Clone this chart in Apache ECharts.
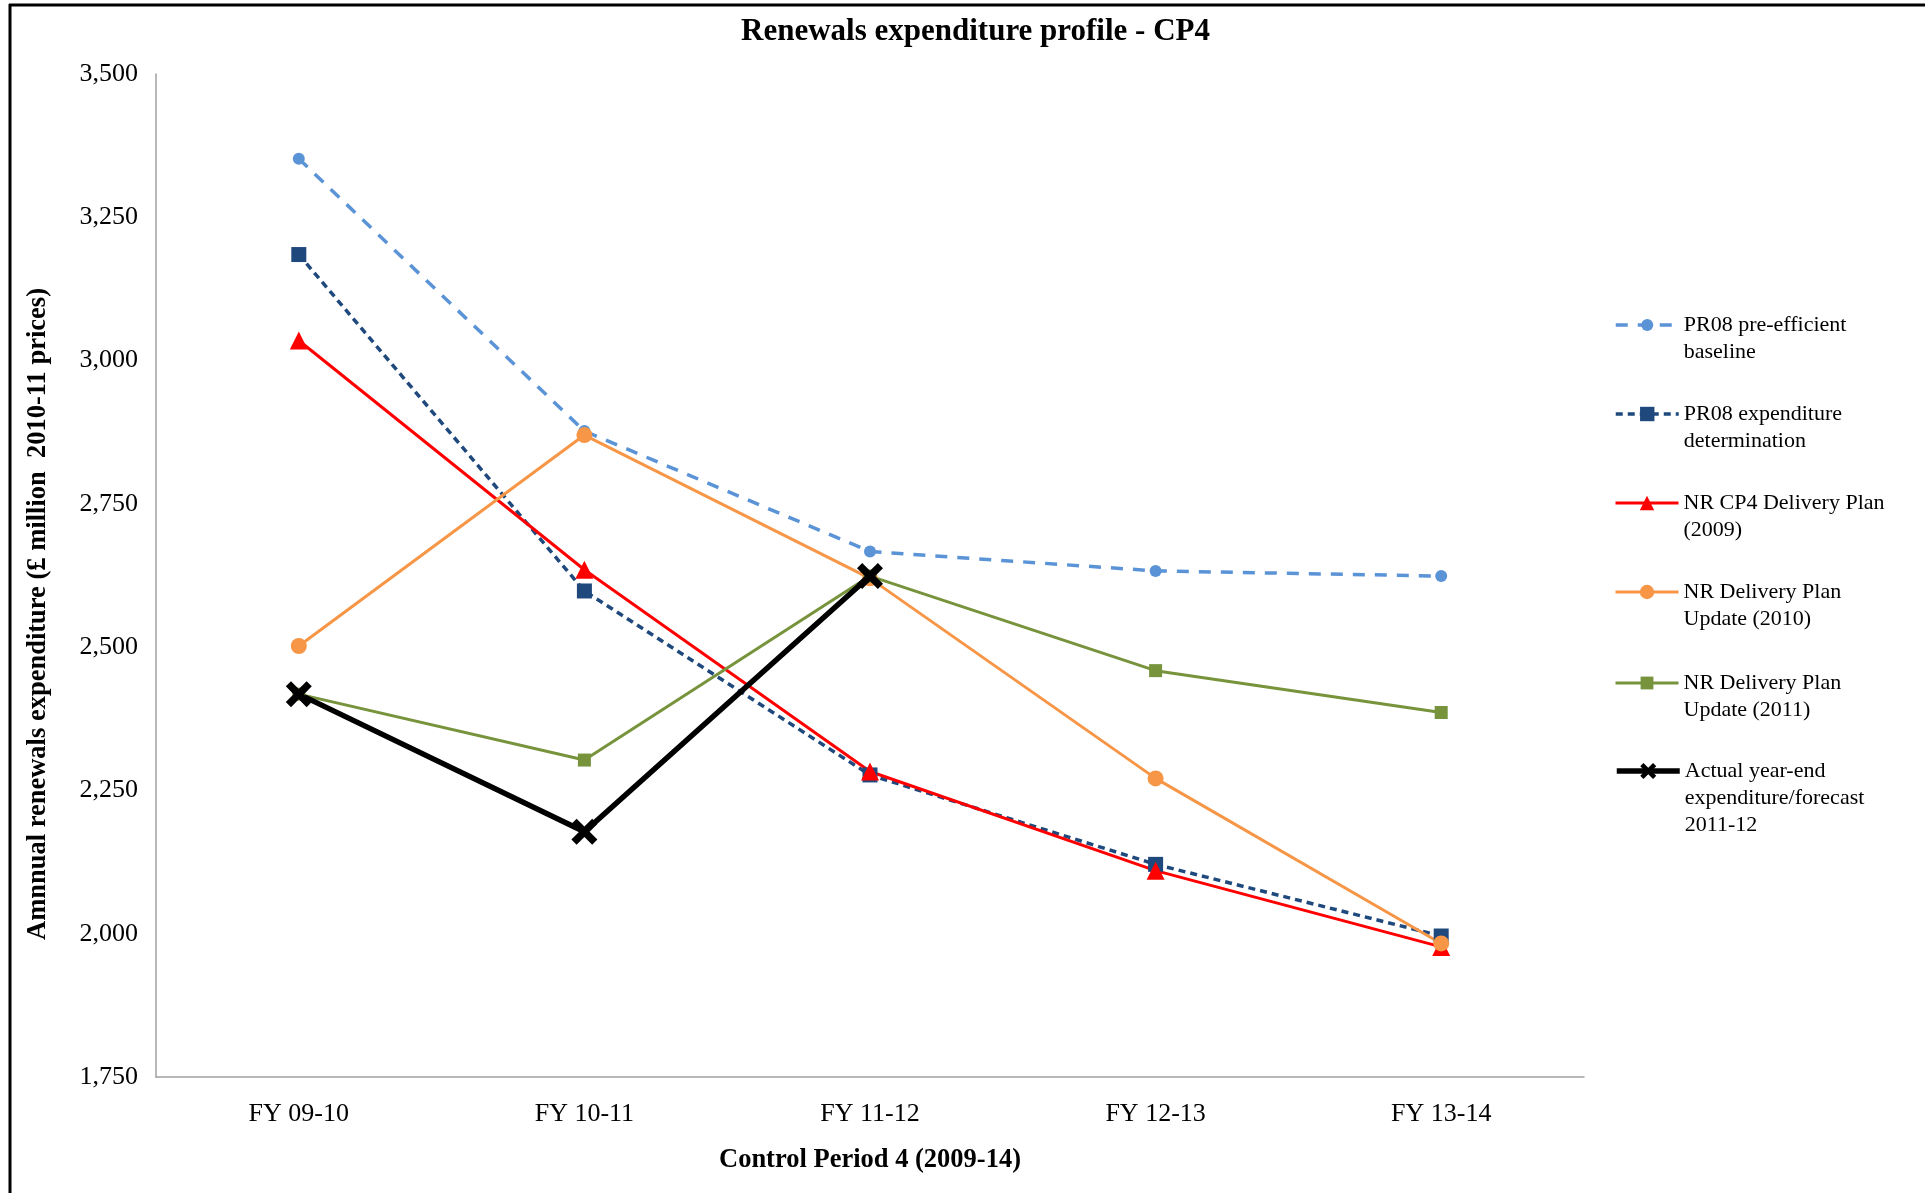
<!DOCTYPE html>
<html>
<head>
<meta charset="utf-8">
<script src="https://cdn.jsdelivr.net/npm/echarts@6/dist/echarts.min.js"></script>
<style>
html,body{margin:0;padding:0;background:#fff;}
#chart{width:1925px;height:1193px;}
</style>
</head>
<body>
<div id="chart"></div>
<script>
// ---- data ----
var categories = ['FY 09-10', 'FY 10-11', 'FY 11-12', 'FY 12-13', 'FY 13-14'];
var preEfficient   = [3352, 2877, 2667, 2633, 2624];
var determination  = [3185, 2598, 2277, 2121, 1996];
var cp4Plan2009    = [3035, 2635, 2283, 2110, 1977];
var planUpdate2010 = [2502, 2870, 2620, 2271, 1983];
var planUpdate2011 = [2418, 2303, 2624, 2459, 2386];
var actual         = [2418, 2178, 2624, null, null];
var yMin = 1750, yMax = 3500, yStep = 250;

var seriesNames = [
  'PR08 pre-efficient\nbaseline',
  'PR08 expenditure\ndetermination',
  'NR CP4 Delivery Plan\n(2009)',
  'NR Delivery Plan\nUpdate (2010)',
  'NR Delivery Plan\nUpdate (2011)',
  'Actual year-end\nexpenditure/forecast\n2011-12'
];
var titleText = 'Renewals expenditure profile - CP4';
var xName = 'Control Period 4 (2009-14)';
var yName = 'Amnnual renewals expenditure (\u00a3 million  2010-11 prices)';

// ---- styling ----
var FONT = "'Liberation Serif', 'Times New Roman', serif";
var xMark = 'path://M0,2 L2,0 L5,3 L8,0 L10,2 L7,5 L10,8 L8,10 L5,7 L2,10 L0,8 L3,5 Z';
var lineWidths = [3.5, 3.5, 3, 3, 3, 5.5];
var legendSymbolH = [15, 18, 18, 18, 16, 20];

var chart = echarts.init(document.getElementById('chart'), null, {renderer: 'canvas'});

function fmt(v) { return String(v).replace(/\B(?=(\d{3})+(?!\d))/g, ','); }

// legend: one component per item; leading blank lines put the icon level with the first text line
var legendFirstLineY = [325, 414, 503, 592, 683, 771];
var LH = 27;
var legends = seriesNames.map(function (n, i) {
  var lines = n.split('\n').length;
  var total = 2 * lines - 1;
  var boxH = total * LH;
  return {
    data: [n],
    orient: 'vertical',
    left: 1614,
    top: legendFirstLineY[i] - boxH / 2,
    padding: 0,
    itemWidth: 63,
    itemHeight: legendSymbolH[i],
    selectedMode: false,
    lineStyle: {width: lineWidths[i]},
    formatter: function (name) {
      var pre = '';
      for (var k = 0; k < lines - 1; k++) pre += ' \n';
      return pre + name;
    },
    textStyle: {fontFamily: FONT, fontSize: 22, color: '#000', lineHeight: LH}
  };
});

var option = {
  backgroundColor: '#fff',
  animation: false,
  title: {
    text: titleText,
    left: 741, top: 16, padding: 0,
    textStyle: {fontFamily: FONT, fontSize: 31, fontWeight: 'bold', color: '#000'}
  },
  legend: legends,
  grid: {left: 156, right: 341, top: 74, bottom: 116, containLabel: false},
  xAxis: {
    type: 'category',
    data: categories,
    boundaryGap: true,
    name: xName,
    nameLocation: 'middle',
    nameGap: 70,
    nameTextStyle: {fontFamily: FONT, fontSize: 26.5, fontWeight: 'bold', color: '#000'},
    axisLine: {lineStyle: {color: '#a0a0a0', width: 1.5}},
    axisTick: {show: false},
    axisLabel: {fontFamily: FONT, fontSize: 26, color: '#000', margin: 24},
    splitLine: {show: false}
  },
  yAxis: {
    type: 'value',
    min: yMin, max: yMax, interval: yStep,
    axisLine: {show: true, lineStyle: {color: '#a0a0a0', width: 1.5}},
    axisTick: {show: false},
    axisLabel: {fontFamily: FONT, fontSize: 26, color: '#000', margin: 18, formatter: fmt},
    splitLine: {show: false}
  },
  graphic: [
    {type: 'line', shape: {x1: 9, y1: 5, x2: 1925, y2: 5}, style: {stroke: '#000', lineWidth: 3}},
    {type: 'line', shape: {x1: 10, y1: 4, x2: 10, y2: 1193}, style: {stroke: '#000', lineWidth: 3}},
    {type: 'text', x: 38, y: 614, rotation: Math.PI / 2,
     style: {text: yName, fontFamily: FONT, fontSize: 26.5, fontWeight: 'bold', fill: '#000',
             align: 'center', verticalAlign: 'middle'}}
  ],
  series: [
    {name: seriesNames[0], type: 'line', data: preEfficient,
     symbol: 'circle', symbolSize: 12,
     itemStyle: {color: '#5B93D7'},
     lineStyle: {color: '#5B93D7', width: lineWidths[0], type: [12, 10]}},
    {name: seriesNames[1], type: 'line', data: determination,
     symbol: 'rect', symbolSize: 15,
     itemStyle: {color: '#1F497D'},
     lineStyle: {color: '#1F497D', width: lineWidths[1], type: [7, 5]}},
    {name: seriesNames[2], type: 'line', data: cp4Plan2009,
     symbol: 'triangle', symbolSize: 18,
     itemStyle: {color: '#FF0000'},
     lineStyle: {color: '#FF0000', width: lineWidths[2]}},
    {name: seriesNames[3], type: 'line', data: planUpdate2010,
     symbol: 'circle', symbolSize: 16,
     itemStyle: {color: '#F79646'},
     lineStyle: {color: '#F79646', width: lineWidths[3]}},
    {name: seriesNames[4], type: 'line', data: planUpdate2011,
     symbol: 'rect', symbolSize: 13,
     itemStyle: {color: '#77933C'},
     lineStyle: {color: '#77933C', width: lineWidths[4]}},
    {name: seriesNames[5], type: 'line', data: actual,
     symbol: xMark, symbolSize: 26,
     itemStyle: {color: '#000'},
     lineStyle: {color: '#000', width: lineWidths[5]}}
  ]
};
chart.setOption(option);
</script>
</body>
</html>
